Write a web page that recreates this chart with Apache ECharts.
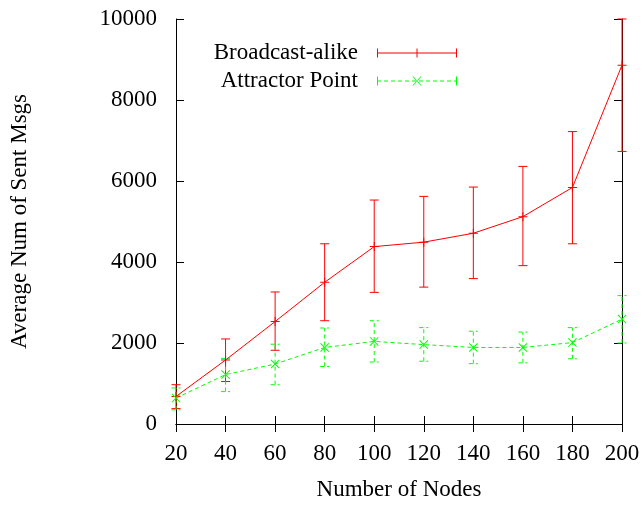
<!DOCTYPE html>
<html>
<head>
<meta charset="utf-8">
<script src="https://cdn.jsdelivr.net/npm/echarts@6/dist/echarts.min.js"></script>
<style>
  html, body { margin: 0; padding: 0; background: #fff; }
  #chart { width: 643px; height: 508px; }
</style>
</head>
<body>
<div id="chart"></div>
<script>
// ---- data ----
const nodes = [20, 40, 60, 80, 100, 120, 140, 160, 180, 200];
const broadcastMean = [680, 1580, 2530, 3500, 4380, 4490, 4710, 5120, 5840, 8860];
const broadcastLow  = [380, 1050, 1820, 2550, 3250, 3380, 3590, 3910, 4450, 6730];
const broadcastHigh = [970, 2100, 3260, 4450, 5530, 5620, 5850, 6360, 7220, 10000];
const attractorMean = [640, 1220, 1480, 1890, 2040, 1960, 1890, 1890, 2010, 2590];
const attractorLow  = [350, 800, 970, 1420, 1530, 1550, 1490, 1510, 1610, 2000];
const attractorHigh = [890, 1620, 1970, 2370, 2550, 2380, 2290, 2270, 2380, 3170];
const yTicks = [0, 2000, 4000, 6000, 8000, 10000];
const xTicks = [20, 40, 60, 80, 100, 120, 140, 160, 180, 200];
const seriesNames = ['Broadcast-alike', 'Attractor Point'];
const xName = 'Number of Nodes';
const yName = 'Average Num of Sent Msgs';

// ---- styling ----
const RED = '#ff0000';
const GREEN = '#00ff00';
const FONT = '"Liberation Serif", "Times New Roman", serif';

const plusPath = 'path://M4 0h1v9h-1zM0 4h9v1h-9z';
const crossPath = 'path://M0 0.7L0.7 0L9 8.3L8.3 9zM8.3 0L9 0.7L0.7 9L0 8.3z';

function redIcon() {
  return 'path://M0 0h1v9h-1zM79 0h1v9h-1zM0 4h80v1h-80zM39.5 0h1v9h-1z';
}
function greenIcon() {
  let p = 'path://M0 0h1v9h-1zM79 0h1v9h-1z';
  for (let s = 0; s < 80; s += 7) {
    const w = Math.min(4, 80 - s);
    p += 'M' + s + ' 4h' + w + 'v1h-' + w + 'z';
  }
  p += 'M35.5 0L36.5 0L44.5 9L43.5 9zM44.5 0L43.5 0L35.5 9L36.5 9z';
  return p;
}

function zip3(a, b, c) { return a.map((v, i) => [v, b[i], c[i]]); }
function zip2(a, b) { return a.map((v, i) => [v, b[i]]); }

function errorBarRenderer(color, dash) {
  return function (params, api) {
    const x = api.value(0);
    const lo = api.coord([x, api.value(1)]);
    const hi = api.coord([x, api.value(2)]);
    const hw = 4.5;
    const style = { stroke: color, lineWidth: 1, lineDash: dash, fill: null };
    return {
      type: 'group',
      children: [
        { type: 'line', shape: { x1: lo[0], y1: lo[1], x2: hi[0], y2: hi[1] }, style: style },
        { type: 'line', shape: { x1: lo[0] - hw, y1: lo[1], x2: lo[0] + hw, y2: lo[1] }, style: style },
        { type: 'line', shape: { x1: hi[0] - hw, y1: hi[1], x2: hi[0] + hw, y2: hi[1] }, style: style }
      ]
    };
  };
}

const axisLineStyle = { show: true, lineStyle: { color: '#000', width: 1 } };
const tickStyle = { show: true, inside: true, length: 8, lineStyle: { color: '#000', width: 1 } };
const plain = v => String(v);

const chart = echarts.init(document.getElementById('chart'), null, { renderer: 'canvas' });
chart.setOption({
  animation: false,
  backgroundColor: '#fff',
  grid: { left: 176, right: 21, top: 19, bottom: 84 },
  legend: {
    orient: 'vertical',
    right: 186,
    top: 41,
    padding: 0,
    itemGap: 4,
    itemWidth: 80,
    itemHeight: 9,
    align: 'right',
    selectedMode: false,
    itemStyle: { borderWidth: 0 },
    textStyle: { fontFamily: FONT, fontSize: 23, color: '#000', lineHeight: 24, padding: [0, 14, 0, 0] },
    data: [
      { name: seriesNames[0], icon: redIcon(), itemStyle: { color: RED, borderWidth: 0 } },
      { name: seriesNames[1], icon: greenIcon(), itemStyle: { color: GREEN, borderWidth: 0 } }
    ]
  },
  xAxis: [
    {
      type: 'value', min: xTicks[0], max: xTicks[xTicks.length - 1], interval: 20,
      position: 'bottom',
      name: xName, nameLocation: 'middle', nameGap: 54,
      nameTextStyle: { fontFamily: FONT, fontSize: 23, color: '#000' },
      axisLine: axisLineStyle, axisTick: tickStyle,
      axisLabel: { fontFamily: FONT, fontSize: 23, color: '#000', margin: 18, formatter: plain },
      splitLine: { show: false }
    },
    {
      type: 'value', min: xTicks[0], max: xTicks[xTicks.length - 1], interval: 20,
      position: 'top',
      axisLine: axisLineStyle, axisTick: tickStyle,
      axisLabel: { show: false }, splitLine: { show: false }
    }
  ],
  yAxis: [
    {
      type: 'value', min: yTicks[0], max: yTicks[yTicks.length - 1], interval: 2000,
      position: 'left',
      name: yName, nameLocation: 'middle', nameGap: 145, nameRotate: 90,
      nameTextStyle: { fontFamily: FONT, fontSize: 23, color: '#000' },
      axisLine: axisLineStyle, axisTick: tickStyle,
      axisLabel: { fontFamily: FONT, fontSize: 23, color: '#000', margin: 19, formatter: plain },
      splitLine: { show: false }
    },
    {
      type: 'value', min: yTicks[0], max: yTicks[yTicks.length - 1], interval: 2000,
      position: 'right',
      axisLine: axisLineStyle, axisTick: tickStyle,
      axisLabel: { show: false }, splitLine: { show: false }
    }
  ],
  series: [
    {
      name: seriesNames[0], type: 'line',
      data: zip2(nodes, broadcastMean),
      symbol: plusPath, symbolSize: 9, showSymbol: true,
      lineStyle: { color: RED, width: 1 },
      itemStyle: { color: RED, borderWidth: 0 },
      z: 3
    },
    {
      name: seriesNames[1], type: 'line',
      data: zip2(nodes, attractorMean),
      symbol: crossPath, symbolSize: 9, showSymbol: true,
      lineStyle: { color: GREEN, width: 1, type: [4, 3] },
      itemStyle: { color: GREEN, borderWidth: 0 },
      z: 3
    },
    {
      name: seriesNames[0] + ' err', type: 'custom',
      data: zip3(nodes, broadcastLow, broadcastHigh),
      renderItem: errorBarRenderer(RED, null),
      encode: { x: 0, y: [1, 2] },
      clip: false, z: 2, silent: true
    },
    {
      name: seriesNames[1] + ' err', type: 'custom',
      data: zip3(nodes, attractorLow, attractorHigh),
      renderItem: errorBarRenderer(GREEN, [4, 3]),
      encode: { x: 0, y: [1, 2] },
      clip: false, z: 2, silent: true
    }
  ]
});
</script>
</body>
</html>
